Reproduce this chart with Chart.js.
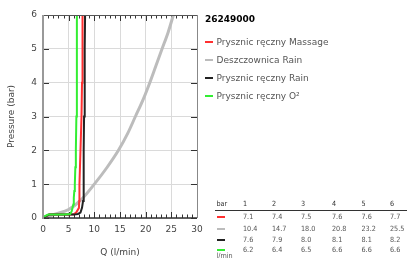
<!DOCTYPE html>
<html>
<head>
<meta charset="utf-8">
<script src="https://cdn.jsdelivr.net/npm/chart.js@4/dist/chart.umd.min.js"></script>
<style>
html,body{margin:0;padding:0;background:#fff;}
#wrap{position:relative;width:407px;height:258px;overflow:hidden;font-family:"DejaVu Sans",sans-serif;}
canvas{position:absolute;left:0;top:0;}
.abs{position:absolute;white-space:nowrap;}
</style>
</head>
<body>
<div id="wrap"><canvas id="c" width="407" height="258"></canvas></div>
<script>
// ---- data ----
const productCode = "26249000";
const seriesNames = ["Prysznic ręczny Massage", "Deszczownica Rain", "Prysznic ręczny Rain", "Prysznic ręczny O²"];
const seriesColors = ["#ff3030", "#bcbcbc", "#222222", "#33ee33"];

const massageQ = [0, 0.5, 1.2, 3, 5, 6.0, 6.5, 7.0, 7.05, 7.1, 7.3, 7.5, 7.6, 7.65, 7.75];
const massageP = [0, 0.05, 0.1, 0.1, 0.1, 0.11, 0.17, 0.3, 0.5, 1, 2, 3, 4, 5, 6];

const rainHeadQ = [0, 1, 2.5, 5, 7.5, 10, 12.5, 14.7, 16.5, 18, 19.5, 20.8, 22, 23.2, 24.4, 25.4];
const rainHeadP = [0, 0.05, 0.12, 0.25, 0.55, 1.0, 1.5, 2, 2.5, 3, 3.5, 4, 4.5, 5, 5.5, 6];

const rainQ = [0, 0.5, 1.2, 3, 5, 6.0, 6.8, 7.3, 7.6, 7.8, 7.9, 7.95, 8.0, 8.1, 8.15, 8.2];
const rainP = [0, 0.05, 0.1, 0.1, 0.1, 0.1, 0.12, 0.16, 0.3, 0.5, 1, 2, 3, 4, 5, 6];

const o2Q = [0, 0.3, 1.0, 2, 4, 5.3, 5.6, 5.9, 6.0, 6.1, 6.2, 6.3, 6.4, 6.5, 6.6, 6.6, 6.6];
const o2P = [0, 0.05, 0.1, 0.1, 0.1, 0.12, 0.2, 0.4, 0.6, 0.8, 1.0, 1.5, 2, 3, 4, 5, 6];

const tableBars = ["1", "2", "3", "4", "5", "6"];
const tableMassage = ["7.1", "7.4", "7.5", "7.6", "7.6", "7.7"];
const tableRainHead = ["10.4", "14.7", "18.0", "20.8", "23.2", "25.5"];
const tableRain = ["7.6", "7.9", "8.0", "8.1", "8.1", "8.2"];
const tableO2 = ["6.2", "6.4", "6.5", "6.6", "6.6", "6.6"];

const xTitle = "Q (l/min)";
const yTitle = "Pressure (bar)";

// ---- build ----
function pts(q, p){ return q.map((v,i)=>({x:v, y:p[i]})); }
const curves = [[massageQ,massageP],[rainHeadQ,rainHeadP],[rainQ,rainP],[o2Q,o2P]];
const widths = [2, 3, 2, 2];

const datasets = curves.map((c,i)=>({
  label: seriesNames[i],
  data: pts(c[0], c[1]),
  borderColor: seriesColors[i],
  borderWidth: widths[i],
  pointRadius: 0,
  fill: false,
  tension: i===1 ? 0.4 : 0,
  cubicInterpolationMode: i===1 ? 'monotone' : 'default'
}));
datasets[1].order = 4; datasets[0].order = 3; datasets[2].order = 2; datasets[3].order = 1;

const frame = {
  id: 'frame',
  beforeDatasetsDraw(chart){
    const {ctx, chartArea:a, scales:{x, y}} = chart;
    ctx.save();
    ctx.strokeStyle = '#333'; ctx.lineWidth = 1;
    for (let v = x.min; v <= x.max; v++){
      const px = Math.round(x.getPixelForValue(v)) + 0.5;
      const len = (v % 5 === 0) ? 6 : 3.5;
      ctx.beginPath();
      ctx.moveTo(px, a.top); ctx.lineTo(px, a.top + len);
      ctx.moveTo(px, a.bottom); ctx.lineTo(px, a.bottom - len);
      ctx.stroke();
    }
    for (let v = y.min; v <= y.max; v++){
      const py = Math.round(y.getPixelForValue(v)) + 0.5;
      ctx.beginPath();
      ctx.moveTo(a.left, py); ctx.lineTo(a.left + 6, py);
      ctx.moveTo(a.right, py); ctx.lineTo(a.right - 6, py);
      ctx.stroke();
    }
    ctx.restore();
  },
  afterDatasetsDraw(chart){
    const {ctx, chartArea:a} = chart;
    ctx.save();
    ctx.lineWidth = 1; ctx.strokeStyle = '#555';
    ctx.beginPath(); ctx.moveTo(a.left, a.top+0.5); ctx.lineTo(a.right, a.top+0.5); ctx.stroke();
    ctx.strokeStyle = '#888';
    ctx.beginPath(); ctx.moveTo(a.right+0.5, a.top); ctx.lineTo(a.right+0.5, a.bottom); ctx.stroke();
    ctx.strokeStyle = '#333'; ctx.lineWidth = 1.5;
    ctx.beginPath(); ctx.moveTo(a.left, a.bottom); ctx.lineTo(a.right, a.bottom); ctx.stroke();
    ctx.strokeStyle = '#999'; ctx.lineWidth = 2;
    ctx.beginPath(); ctx.moveTo(a.left, a.top); ctx.lineTo(a.left, a.bottom+1); ctx.stroke();
    ctx.restore();
  }
};

new Chart(document.getElementById('c'), {
  type: 'line',
  data: { datasets },
  options: {
    responsive: false,
    animation: false,
    layout: { padding: { left: 0, right: 210, top: 15, bottom: 0 } },
    plugins: { legend: { display: false }, tooltip: { enabled: false } },
    scales: {
      x: {
        type: 'linear', min: 0, max: 30,
        ticks: { stepSize: 5, color: '#444', font: { family: 'DejaVu Sans', size: 9 }, padding: 6, maxRotation: 0 },
        grid: { color: '#dadada', drawTicks: false },
        border: { display: false },
        title: { display: true, text: xTitle, color: '#444', font: { family: 'DejaVu Sans', size: 9 }, padding: { top: 6, bottom: 0 } },
        afterFit(s){ s.height = 40; }
      },
      y: {
        type: 'linear', min: 0, max: 6,
        ticks: { stepSize: 1, color: '#444', font: { family: 'DejaVu Sans', size: 9 }, padding: 6 },
        grid: { color: '#dadada', drawTicks: false },
        border: { display: false },
        title: { display: true, text: yTitle, color: '#444', font: { family: 'DejaVu Sans', size: 9 }, padding: { top: 6, bottom: 0 } },
        afterFit(s){ s.width = 43; }
      }
    }
  },
  plugins: [frame]
});

// ---- legend (HTML text) ----
const wrap = document.getElementById('wrap');
function add(html, css){ const d = document.createElement('div'); d.className='abs'; d.style.cssText = css; d.innerHTML = html; wrap.appendChild(d); return d; }
add(productCode, 'left:205px;top:12px;font:bold 9px "DejaVu Sans";line-height:14px;color:#000;');
seriesNames.forEach((n,i)=>{
  const cy = 42 + i*17.9;
  add('', `left:205px;top:${cy-1}px;width:8px;height:2px;background:${seriesColors[i]};`);
  add(n, `left:216.5px;top:${cy-6}px;font:9px "DejaVu Sans";line-height:12px;color:#555;`);
});

// ---- table ----
const colX = [243, 272, 301, 332, 361.5, 390];
const tf = 'font:7.2px "DejaVu Sans Condensed","DejaVu Sans";line-height:9px;';
add('bar', `left:216.5px;top:${204-5}px;${tf}color:#333;`);
tableBars.forEach((b,j)=> add(b, `left:${colX[j]}px;top:${204-5}px;${tf}color:#333;`));
add('', 'left:215px;top:210px;width:192px;height:1.3px;background:#333;');
const rows = [tableMassage, tableRainHead, tableRain, tableO2];
const rowY = [217.3, 228.8, 239.7, 249.7];
rows.forEach((r,i)=>{
  add('', `left:216.5px;top:${rowY[i]-1}px;width:8px;height:2px;background:${seriesColors[i]};`);
  r.forEach((v,j)=> add(v, `left:${colX[j]}px;top:${rowY[i]-5}px;${tf}color:#555;`));
});
add('l/min', `left:216.5px;top:${255.3-4.5}px;${tf}color:#555;`);
</script>
</body>
</html>
